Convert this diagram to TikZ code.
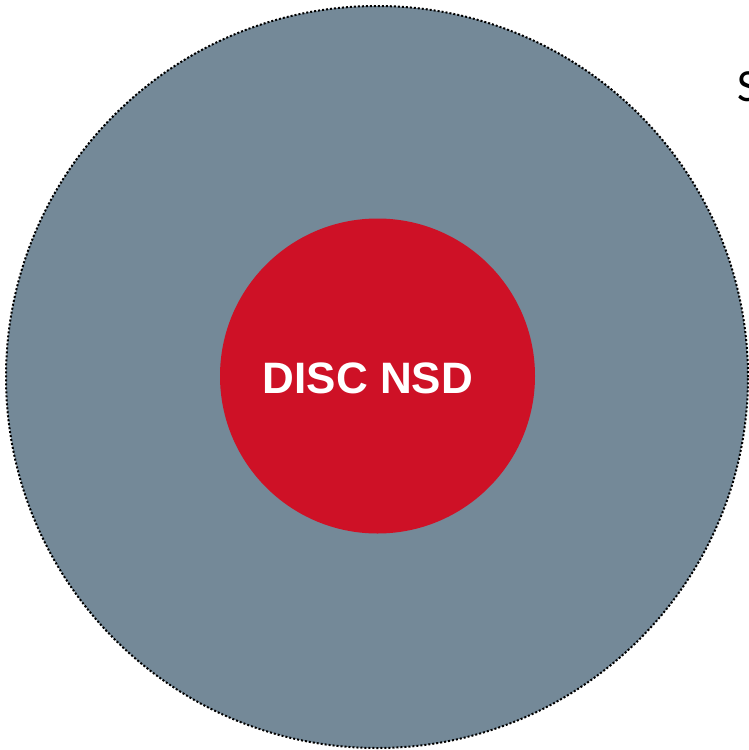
\documentclass[tikz,border=0pt]{standalone}
\usepackage{fontspec}
\setmainfont{Liberation Sans}
\newfontfamily\labelfont{Carlito}
\definecolor{outerfill}{RGB}{116,137,152}
\definecolor{innerfill}{RGB}{206,17,38}
\tikzset{
  outerring/.style={draw=black, line width=2pt, dash pattern=on 2pt off 2pt, fill=outerfill},
  innerdisc/.style={fill=innerfill, draw=none},
  disctext/.style={text=white, font=\bfseries\fontsize{44}{44}\selectfont},
  sidetext/.style={text=black, font=\labelfont\fontsize{46}{46}\selectfont, anchor=base west, inner sep=0pt}
}
\begin{document}
\begin{tikzpicture}[x=1pt,y=1pt]
\useasboundingbox (0,0) rectangle (749,-750);
\node[outerring, circle, minimum size=742pt, inner sep=0pt] (outer) at (377,-377) {};
\node[innerdisc, circle, minimum size=315pt, inner sep=0pt] (inner) at (377.5,-376) {};
\node[disctext] (label) at (368,-378) {DISC NSD};
\node[sidetext] (side) at (737,-101) {S};
\end{tikzpicture}
\end{document}
